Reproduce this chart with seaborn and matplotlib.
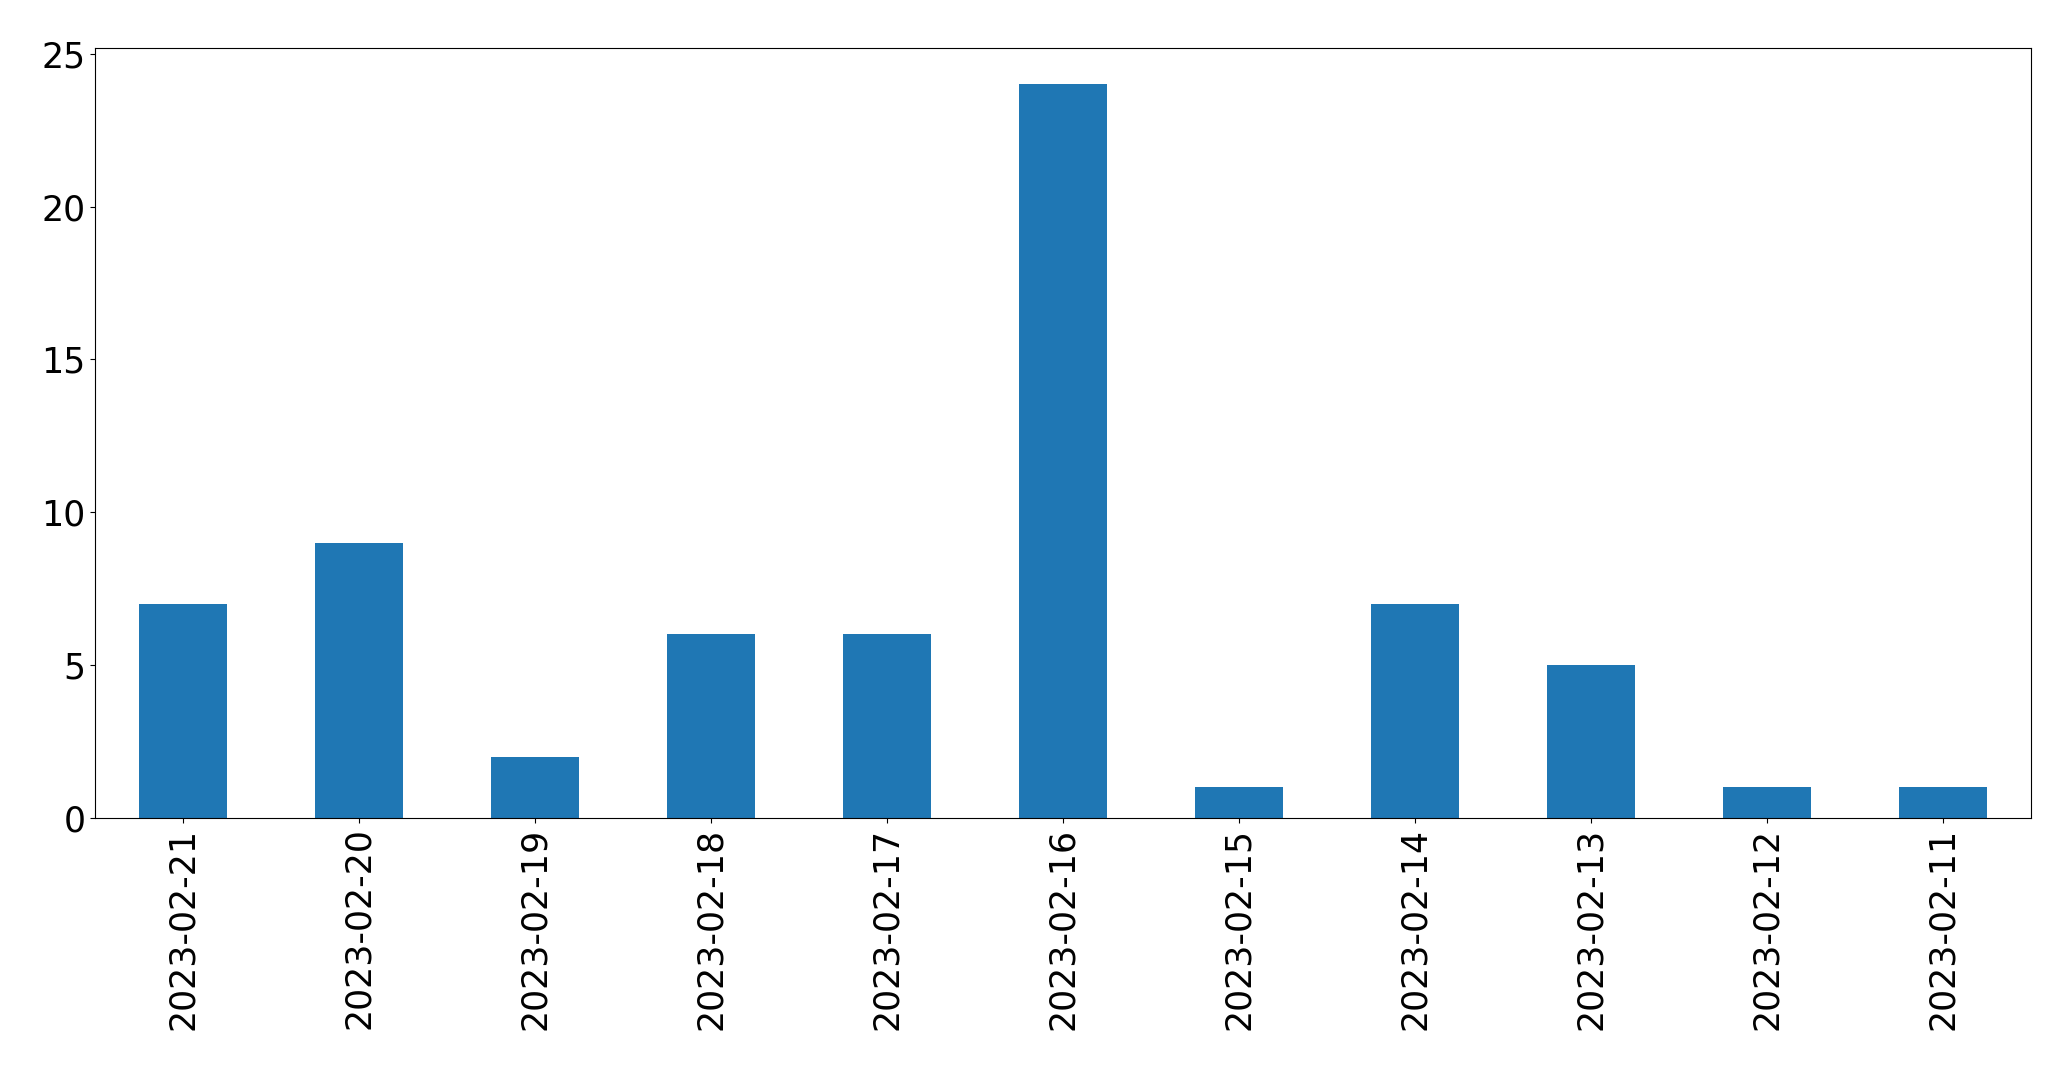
import matplotlib
matplotlib.use('Agg')
import matplotlib.pyplot as plt
import seaborn as sns
import pandas as pd

dates = ['2023-02-21', '2023-02-20', '2023-02-19', '2023-02-18', '2023-02-17', '2023-02-16',
         '2023-02-15', '2023-02-14', '2023-02-13', '2023-02-12', '2023-02-11']
counts = [7, 9, 2, 6, 6, 24, 1, 7, 5, 1, 1]

df = pd.DataFrame({'date': dates, 'count': counts})

fig, ax = plt.subplots(figsize=(20.71, 10.69), dpi=100)
sns.barplot(data=df, x='date', y='count', order=dates, color='#1f77b4',
            saturation=1, width=0.5, ax=ax)

ax.set_xlim(-0.5, len(dates) - 0.5)
ax.set_ylim(0, max(counts) * 1.05)
ax.set_xlabel('')
ax.set_ylabel('')
ax.tick_params(axis='both', labelsize=25)
plt.setp(ax.get_xticklabels(), rotation=90)
for s in ax.spines.values():
    s.set_visible(True)

fig.subplots_adjust(left=0.0459, right=0.9805, top=0.9555, bottom=0.235)
fig.savefig('out.png', dpi=100)
